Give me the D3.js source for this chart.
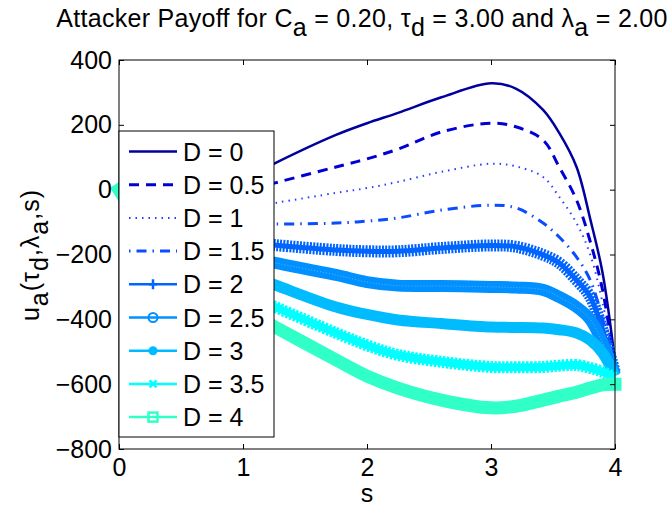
<!DOCTYPE html>
<html>
<head>
<meta charset="utf-8">
<script src="https://cdn.jsdelivr.net/npm/d3@7"></script>
<style>
  body { margin: 0; background: #fff; }
  text { font-family: "Liberation Sans", Arial, sans-serif; fill: #000; }
</style>
</head>
<body>
<div id="viz-container"></div>
<script>
// s values sampled along each curve
var sVals = [0, 0.3, 0.6, 0.9, 1.26, 1.75, 2.0, 2.25, 2.6, 3.0, 3.2, 3.42, 3.55, 3.69, 3.8, 3.9, 4.0];

// attacker payoff per defender level D
var dLevels = [0, 0.5, 1, 1.5, 2, 2.5, 3, 3.5, 4];
var payD0   = [0, -50, -40, 10, 82, 169, 205, 237, 285, 328, 312, 246, 175, 70, -90, -257, -530];
var payD05  = [0, -30, -40, -15, 21, 70, 95, 125, 178, 205, 194, 153, 70, -32, -160, -310, -550];
var payD1   = [0, -50, -80, -64, -41, -10, 5, 24, 55, 80, 72, 39, -22, -103, -200, -350, -555];
var payD15  = [0, -60, -95, -105, -106, -103, -97, -87, -63, -48, -56, -103, -146, -208, -279, -400, -560];
var payD2   = [0, -85, -140, -158, -171, -186, -190, -190, -180, -172, -176, -201, -226, -279, -330, -433, -565];
var payD25  = [0, -100, -165, -198, -226, -263, -285, -296, -297, -300, -302, -309, -331, -362, -400, -473, -570];
var payD3   = [0, -110, -190, -242, -294, -362, -385, -402, -413, -424, -425, -427, -432, -442, -464, -504, -575];
var payD35  = [0, -140, -240, -302, -362, -442, -480, -510, -531, -547, -548, -547, -543, -541, -550, -562, -580];
var payD4   = [0, -165, -280, -350, -424, -525, -575, -612, -649, -673, -668, -649, -637, -625, -612, -602, -600];

var xTicks = [0, 1, 2, 3, 4];
var yTicks = [-800, -600, -400, -200, 0, 200, 400];

var allPay = [payD0, payD05, payD1, payD15, payD2, payD25, payD3, payD35, payD4];

// line look for each series
var styles = [
  {color: '#00009f', dash: null, w: 2.5, mark: null},
  {color: '#0000d4', dash: '10,7', w: 3, mark: null},
  {color: '#2a3cff', dash: '1.5,5', w: 2, mark: null},
  {color: '#0a4cff', dash: '1.5,6,10,6', w: 3, mark: null},
  {color: '#0064ff', dash: null, w: 5, mark: 'plus'},
  {color: '#0090ff', dash: null, w: 12, mark: 'circle'},
  {color: '#00bcff', dash: null, w: 11, mark: 'dot'},
  {color: '#00ffff', dash: null, w: 8, mark: 'cross'},
  {color: '#30ffc8', dash: null, w: 13, mark: 'square'}
];

var W = 672, H = 510,
	plotL = 119, plotR = 615, plotT = 60, plotB = 449;

var svg = d3.select('#viz-container')
	.append('svg')
	.attr('width', W)
	.attr('height', H);

var x = d3.scaleLinear().domain([0, 4]).range([plotL, plotR]);
var y = d3.scaleLinear().domain([-800, 400]).range([plotB, plotT]);

var line = d3.line()
	.x(function(d, i){ return x(sVals[i]); })
	.y(function(d){ return y(d); })
	.curve(d3.curveCatmullRom.alpha(0.5));

// curves
var curves = svg.append('g');
allPay.forEach(function(vals, k){
	var st = styles[k];
	if (st.mark === 'plus' || st.mark === 'cross') {
		curves.append('path')
			.attr('d', line(vals))
			.attr('fill', 'none')
			.attr('stroke', st.color)
			.attr('stroke-width', 12)
			.attr('stroke-dasharray', st.mark === 'plus' ? '2,1.3' : '2.5,1.5');
	}
	var p = curves.append('path')
		.attr('d', line(vals))
		.attr('fill', 'none')
		.attr('stroke', st.color)
		.attr('stroke-width', st.w)
		.attr('stroke-linejoin', 'round');
	if (st.dash) p.attr('stroke-dasharray', st.dash);
	if (st.mark === 'square') p.attr('stroke-linecap', 'square');
	if (st.mark === 'circle') {
		curves.append('path')
			.attr('d', line(vals))
			.attr('fill', 'none')
			.attr('stroke', '#5cb4ff')
			.attr('stroke-width', 1)
			.attr('stroke-dasharray', '1,2');
	}
});

// box and ticks
svg.append('rect')
	.attr('x', plotL).attr('y', plotT)
	.attr('width', plotR - plotL).attr('height', plotB - plotT)
	.attr('fill', 'none').attr('stroke', '#000').attr('stroke-width', 1);

svg.append('g')
	.attr('transform', 'translate(0,' + plotB + ')')
	.call(d3.axisBottom(x).tickValues(xTicks).tickSize(-5).tickPadding(9).tickFormat(d3.format('d')))
	.call(function(g){ g.select('.domain').remove(); });
svg.append('g')
	.attr('transform', 'translate(0,' + plotT + ')')
	.call(d3.axisTop(x).tickValues(xTicks).tickSize(-5).tickFormat(''))
	.call(function(g){ g.select('.domain').remove(); });
svg.append('g')
	.attr('transform', 'translate(' + plotL + ',0)')
	.call(d3.axisLeft(y).tickValues(yTicks).tickSize(-5).tickPadding(7).tickFormat(function(d){
		return d < 0 ? '\u2212' + Math.abs(d) : d;
	}))
	.call(function(g){ g.select('.domain').remove(); });
svg.append('g')
	.attr('transform', 'translate(' + plotR + ',0)')
	.call(d3.axisRight(y).tickValues(yTicks).tickSize(-5).tickFormat(''))
	.call(function(g){ g.select('.domain').remove(); });

svg.selectAll('.tick line').attr('stroke', '#000');
svg.selectAll('.tick text')
	.style('font-family', '"Liberation Sans", Arial, sans-serif')
	.style('font-size', '25px')
	.attr('fill', '#000');

// legend
var lg = svg.append('g');
lg.append('rect')
	.attr('x', 119).attr('y', 131)
	.attr('width', 155).attr('height', 306)
	.attr('fill', '#fff').attr('stroke', '#000').attr('stroke-width', 1);

dLevels.forEach(function(dv, k){
	var st = styles[k];
	var ly = 151.5 + 33.2 * k;
	var ln = lg.append('line')
		.attr('x1', 129).attr('x2', 177)
		.attr('y1', ly).attr('y2', ly)
		.attr('stroke', st.color)
		.attr('stroke-width', st.mark ? 2.5 : st.w);
	if (st.dash) ln.attr('stroke-dasharray', st.dash);
	var mx = 153;
	if (st.mark === 'plus') {
		lg.append('path').attr('d', 'M' + (mx-4) + ',' + ly + 'h8M' + mx + ',' + (ly-5) + 'v10')
			.attr('stroke', st.color).attr('stroke-width', 2.5);
	} else if (st.mark === 'circle') {
		lg.append('circle').attr('cx', mx).attr('cy', ly).attr('r', 4.5)
			.attr('fill', 'none').attr('stroke', st.color).attr('stroke-width', 2);
	} else if (st.mark === 'dot') {
		lg.append('circle').attr('cx', mx).attr('cy', ly).attr('r', 4.5)
			.attr('fill', st.color);
	} else if (st.mark === 'cross') {
		lg.append('path').attr('d', 'M' + (mx-3.5) + ',' + (ly-3.5) + 'l7,7M' + (mx-3.5) + ',' + (ly+3.5) + 'l7,-7')
			.attr('stroke', st.color).attr('stroke-width', 2.5);
	} else if (st.mark === 'square') {
		lg.append('rect').attr('x', mx-4.5).attr('y', ly-4.5).attr('width', 9).attr('height', 9)
			.attr('fill', 'none').attr('stroke', st.color).attr('stroke-width', 2.5);
	}
	lg.append('text')
		.attr('x', 183).attr('y', ly + 9)
		.style('font-size', '25px')
		.text('D = ' + dv);
});

// title
var title = svg.append('text')
	.attr('x', 362).attr('y', 27)
	.attr('text-anchor', 'middle')
	.style('font-size', '25px')
	.style('letter-spacing', '0.3px');
var parts = [['Attacker Payoff for C', 0], ['a', 9], [' = 0.20, \u03c4', -9], ['d', 9], ['  = 3.00 and \u03bb', -9], ['a', 9], [' = 2.00', -9]];
parts.forEach(function(p){
	title.append('tspan').attr('dy', p[1]).text(p[0]);
});

// axis labels
svg.append('text')
	.attr('x', 367).attr('y', 502)
	.attr('text-anchor', 'middle')
	.style('font-size', '25px')
	.text('s');

var ylab = svg.append('text')
	.attr('transform', 'translate(39,' + 255 + ') rotate(-90)')
	.attr('text-anchor', 'middle')
	.style('font-size', '25px')
	.style('letter-spacing', '1px');
var yparts = [['u', 0], ['a', 9], ['(\u03c4', -9], ['d', 9], [',\u03bb', -9], ['a', 9], [',s)', -9]];
yparts.forEach(function(p){
	ylab.append('tspan').attr('dy', p[1]).text(p[0]);
});
</script>
</body>
</html>
